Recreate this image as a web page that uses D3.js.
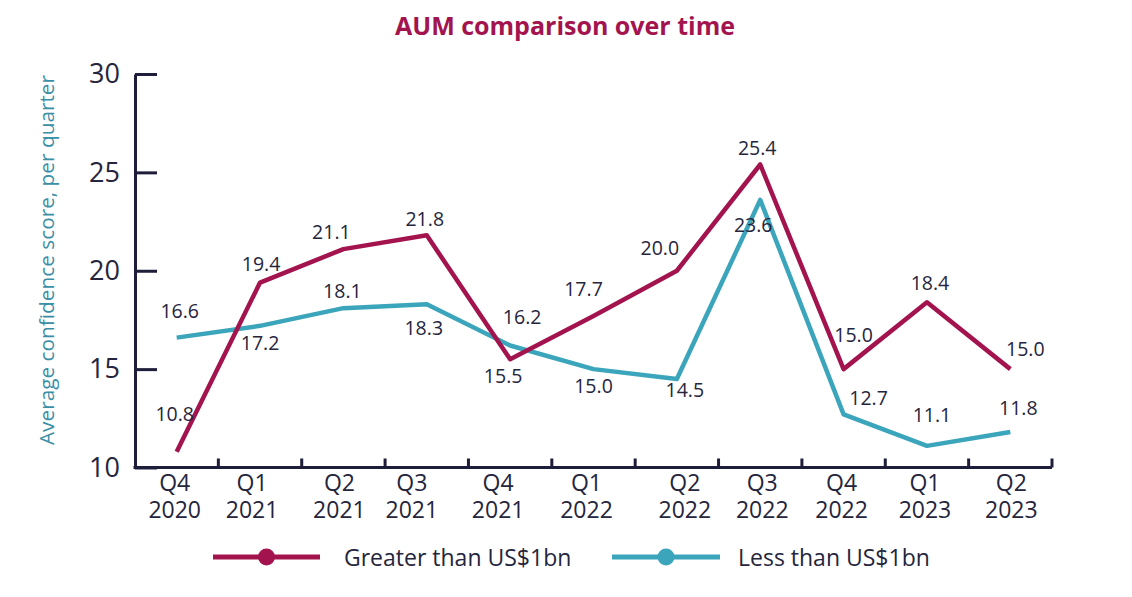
<!DOCTYPE html>
<html>
<head>
<meta charset="utf-8">
<script src="https://cdn.jsdelivr.net/npm/d3@7"></script>
<style>
  html, body { margin: 0; padding: 0; background: #fff; }
  svg { display: block; font-family: "Open Sans", "Noto Sans", sans-serif; }
</style>
</head>
<body>
<svg id="chart" width="1132" height="597"></svg>
<script>
// ---- data ----
const categories = ["Q4 2020", "Q1 2021", "Q2 2021", "Q3 2021", "Q4 2021", "Q1 2022",
                    "Q2 2022", "Q3 2022", "Q4 2022", "Q1 2023", "Q2 2023"];
const greaterThan1bn = [10.8, 19.4, 21.1, 21.8, 15.5, 17.7, 20.0, 25.4, 15.0, 18.4, 15.0];
const lessThan1bn    = [16.6, 17.2, 18.1, 18.3, 16.2, 15.0, 14.5, 23.6, 12.7, 11.1, 11.8];
const yTicks = [10, 15, 20, 25, 30];
const seriesNames = ["Greater than US$1bn", "Less than US$1bn"];

// ---- layout / style ----
const COLORS = ["#a3144f", "#3ba5bb"];
const TEXT = "#25253d";
const AXIS = "#1e1e3a";
const plotLeft = 135, plotRight = 1052, plotTop = 74, plotBottom = 467.5;

// label offsets (dx, dy) relative to each point, per series
const labelOffsets = [
  [[-2,-38],[1,-19],[-12,-18],[-2,-17],[-7,16],[-10,-28],[-17,-23],[-3,-17],[10,-35],[3,-20],[15,-21]],
  [[3,-27],[0,17],[-1,-18],[-3,23],[12,-29],[0,16],[8,11],[-7,25],[25,-17],[5,-31],[8,-25]]
];
// small horizontal nudges of category labels, as in the original layout
const tickLabelShift = [-2, -8, -4, -15, -12, -7, 8, 2, -2, -2, 1];

const svg = d3.select("#chart");

const x = d3.scaleBand().domain(categories).range([plotLeft, plotRight]).padding(0);
const y = d3.scaleLinear().domain([10, 30]).range([plotBottom, plotTop]);
const cx = d => x(d) + x.bandwidth() / 2;

// title
svg.append("text")
  .attr("x", 565).attr("y", 25)
  .attr("text-anchor", "middle").attr("dominant-baseline", "central")
  .attr("font-size", 25).attr("font-weight", 700)
  .attr("fill", "#a3144f")
  .text("AUM comparison over time");

// y axis title
svg.append("text")
  .attr("transform", `translate(46,${(77 + 443) / 2}) rotate(-90)`)
  .attr("text-anchor", "middle").attr("dominant-baseline", "central")
  .attr("font-size", 20.8).attr("fill", "#3a8ea5")
  .text("Average confidence score, per quarter");

// y axis
const yAxis = svg.append("g")
  .attr("transform", `translate(${plotLeft},0)`)
  .call(d3.axisLeft(y).tickValues(yTicks).tickSize(-22).tickPadding(15).tickSizeOuter(0));
yAxis.select(".domain").attr("stroke", AXIS).attr("stroke-width", 3);
yAxis.selectAll(".tick line").attr("stroke", AXIS).attr("stroke-width", 3);
yAxis.selectAll(".tick text").attr("font-size", 27).attr("fill", TEXT)
  .attr("font-family", "'Open Sans', sans-serif");

// x axis
const xAxis = svg.append("g")
  .attr("transform", `translate(0,${plotBottom})`)
  .call(d3.axisBottom(x).tickSize(0).tickPadding(0).tickSizeOuter(0));
xAxis.select(".domain").attr("stroke", AXIS).attr("stroke-width", 3)
  .attr("d", `M${plotLeft - 1.5},0H${plotRight}`);
xAxis.selectAll(".tick text").each(function(d, i) {
  const parts = d.split(" ");
  const t = d3.select(this).text(null)
    .attr("font-size", 23).attr("fill", TEXT)
    .attr("font-family", "'Open Sans', sans-serif")
    .attr("y", 0).attr("dy", null);
  t.append("tspan").attr("x", tickLabelShift[i]).attr("y", 23).text(parts[0]);
  t.append("tspan").attr("x", tickLabelShift[i]).attr("y", 50).text(parts[1]);
});
// boundary ticks
xAxis.selectAll(".btick").data(categories).enter().append("line")
  .attr("class", "btick")
  .attr("x1", d => x(d) + x.bandwidth()).attr("x2", d => x(d) + x.bandwidth())
  .attr("y1", 0).attr("y2", -9)
  .attr("stroke", AXIS).attr("stroke-width", 3);

// lines
const seriesData = [greaterThan1bn, lessThan1bn];
const line = d3.line().x((d, i) => cx(categories[i])).y(d => y(d));

seriesData.slice().reverse().forEach((vals, ri) => {
  const si = seriesData.length - 1 - ri;
  svg.append("path")
    .datum(vals)
    .attr("d", line)
    .attr("fill", "none")
    .attr("stroke", COLORS[si])
    .attr("stroke-width", 4.5)
    .attr("stroke-linejoin", "round");
});

// data labels
seriesData.forEach((vals, si) => {
  svg.append("g").selectAll("text").data(vals).enter().append("text")
    .attr("x", (d, i) => cx(categories[i]) + labelOffsets[si][i][0])
    .attr("y", (d, i) => y(d) + labelOffsets[si][i][1])
    .attr("text-anchor", "middle").attr("dominant-baseline", "central")
    .attr("font-size", 19.5).attr("fill", TEXT)
    .text(d => d.toFixed(1));
});

// legend
const legendItems = [
  { name: seriesNames[0], color: COLORS[0], x0: 213, x1: 320, tx: 344 },
  { name: seriesNames[1], color: COLORS[1], x0: 612, x1: 720, tx: 738 }
];
const lg = svg.append("g");
legendItems.forEach(it => {
  lg.append("line").attr("x1", it.x0).attr("x2", it.x1).attr("y1", 557).attr("y2", 557)
    .attr("stroke", it.color).attr("stroke-width", 5);
  lg.append("circle").attr("cx", (it.x0 + it.x1) / 2).attr("cy", 557).attr("r", 8.5)
    .attr("fill", it.color);
  lg.append("text").attr("x", it.tx).attr("y", 557)
    .attr("dominant-baseline", "central")
    .attr("font-size", 23).attr("fill", TEXT)
    .text(it.name);
});
</script>
</body>
</html>
